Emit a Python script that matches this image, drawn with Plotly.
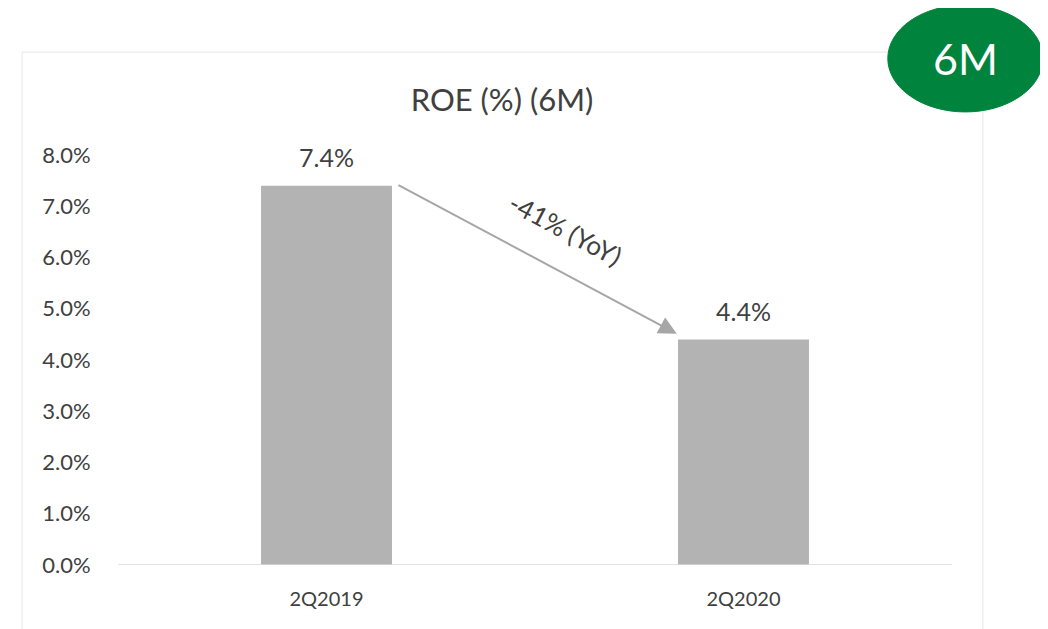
import plotly.graph_objects as go

categories = ["2Q2019", "2Q2020"]
roe_values = [7.4, 4.4]
value_labels = ["7.4%", "4.4%"]
y_ticks = [0, 1, 2, 3, 4, 5, 6, 7, 8]
y_tick_labels = ["0.0%", "1.0%", "2.0%", "3.0%", "4.0%", "5.0%", "6.0%", "7.0%", "8.0%"]
change_label = "-41% (YoY)"
badge_label = "6M"
title_text = "ROE (%) (6M)"

FONT = "Lato, Open Sans, sans-serif"
TXT = "#404040"

# page body has an 8px default margin; compensate
W, H = 1040, 621

fig = go.Figure()
fig.add_trace(go.Bar(
    x=categories, y=roe_values,
    marker=dict(color="#b3b3b3", line=dict(width=0)),
    width=0.314,
))

for c, v, t in zip(categories, roe_values, value_labels):
    fig.add_annotation(x=c, y=v, xref="x", yref="y", text=t, showarrow=False,
                       yanchor="bottom", yshift=12,
                       font=dict(size=25, color=TXT, family=FONT))

fig.update_layout(
    width=W, height=H,
    margin=dict(l=110, r=96, t=147, b=64, autoexpand=False),
    paper_bgcolor="white", plot_bgcolor="white",
    showlegend=False,
    font=dict(family=FONT, color=TXT),
    title=dict(text=title_text, x=(502 - 8) / W, xanchor="center", y=1 - 92 / H, yanchor="middle",
               font=dict(size=31, color=TXT, family=FONT)),
    xaxis=dict(showgrid=False, showline=False, zeroline=False, ticks="outside",
               ticklen=16, tickcolor="rgba(0,0,0,0)", automargin=False,
               tickfont=dict(size=20, color=TXT), range=[-0.5, 1.5]),
    yaxis=dict(range=[0, 8], tickvals=y_ticks, ticktext=y_tick_labels,
               showgrid=False, zeroline=False, showline=False, ticks="outside",
               ticklen=22, tickcolor="rgba(0,0,0,0)", automargin=False,
               tickfont=dict(size=22, color=TXT)),
)

# baseline
fig.add_shape(type="line", xref="paper", yref="y", x0=0, x1=1, y0=0, y1=0,
              line=dict(color="#d9d9d9", width=1.5))
# chart frame
fig.add_shape(type="rect", xref="paper", yref="paper", x0=-0.115, x1=1.037, y0=-0.3, y1=1.251,
              line=dict(color="#e6e6e6", width=1), layer="below")
# badge ellipse
fig.add_shape(type="circle", xref="paper", yref="paper", x0=0.923, x1=1.109, y0=1.105, y1=1.366,
              fillcolor="#00843d", line=dict(color="#00843d", width=1))
fig.add_annotation(xref="paper", yref="paper", x=1.016, y=1.2355, text=badge_label, showarrow=False,
                   font=dict(size=43, color="white", family=FONT), xanchor="center", yanchor="middle")

# arrow
fig.add_annotation(x=0.84, y=4.51, ax=0.169, ay=7.43, xref="x", yref="y", axref="x", ayref="y",
                   text="", showarrow=True, arrowhead=2, arrowsize=1.8, arrowwidth=2,
                   arrowcolor="#a6a6a6")
fig.add_annotation(x=0.572, y=6.55, xref="x", yref="y", text=change_label, showarrow=False,
                   textangle=28, font=dict(size=26, color=TXT, family=FONT))

fig.write_html("out.html")
